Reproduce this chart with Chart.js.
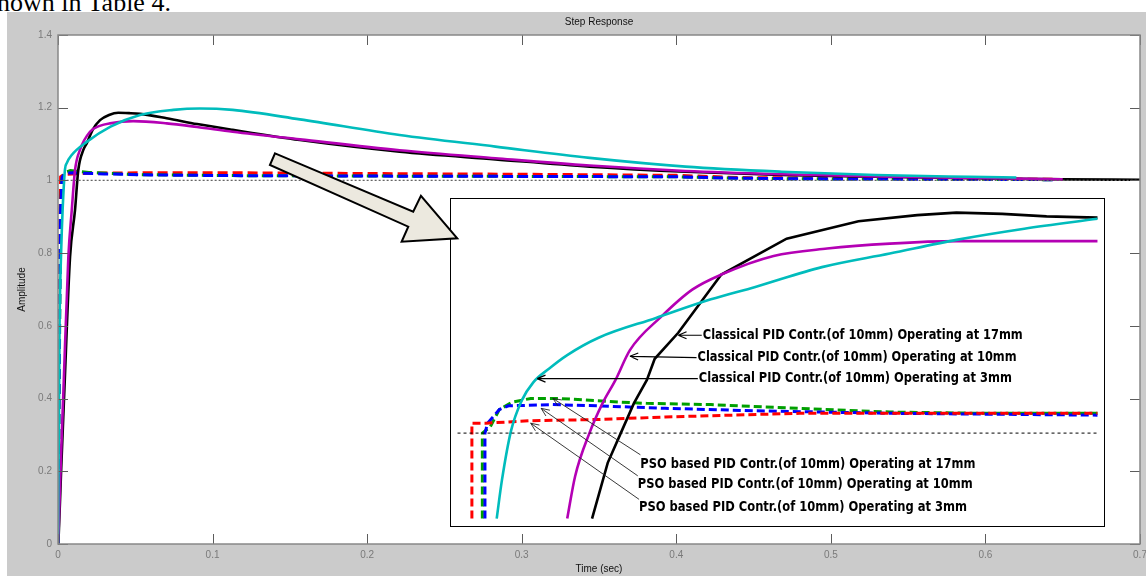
<!DOCTYPE html>
<html>
<head>
<meta charset="utf-8">
<script src="https://cdn.jsdelivr.net/npm/chart.js@4.4.1/dist/chart.umd.min.js"></script>
<style>
  html, body { margin: 0; padding: 0; background: #fff; }
  #page { position: relative; width: 1146px; height: 576px; overflow: hidden; }
  #doc { position: absolute; left: -3px; top: -10px; font: 26px/26px "Liberation Serif", "Times New Roman", serif; color: #000; white-space: nowrap; }
  #fig { position: absolute; left: 7px; top: 12px; width: 1139px; height: 564px; background: #cbcbcb; }
  canvas { position: absolute; left: 0; top: 0; }
</style>
</head>
<body>
<div id="page">
  <div id="doc">nown in Table 4.</div>
  <div id="fig"></div>
  <canvas id="main" width="1146" height="576"></canvas>
  <canvas id="inset" width="1146" height="576"></canvas>
</div>
<script>
// axis ticks
const xTicks = [0, 0.1, 0.2, 0.3, 0.4, 0.5, 0.6, 0.7];
const xTickLabels = ['0', '0.1', '0.2', '0.3', '0.4', '0.5', '0.6', '0.7'];
const yTicks = [0, 0.2, 0.4, 0.6, 0.8, 1, 1.2, 1.4];
const yTickLabels = ['0', '0.2', '0.4', '0.6', '0.8', '1', '1.2', '1.4'];

// main plot: time (sec) and amplitude
const refT = [0.003, 0.7];
const refA = [1, 1];
const cyanT = [0, 0.0005, 0.001, 0.002, 0.003, 0.0045, 0.0056, 0.0089, 0.0186, 0.034, 0.053, 0.0746, 0.0918, 0.113, 0.1565, 0.221, 0.283, 0.344, 0.406, 0.468, 0.529, 0.59, 0.62];
const cyanA = [0, 0.3, 0.6, 0.8, 0.92, 1.03, 1.047, 1.07, 1.106, 1.148, 1.18, 1.194, 1.198, 1.194, 1.168, 1.125, 1.093, 1.062, 1.038, 1.024, 1.015, 1.01, 1.008];
const magentaT = [0, 0.0005, 0.002, 0.0035, 0.0067, 0.0089, 0.011, 0.0142, 0.0207, 0.027, 0.0336, 0.0487, 0.0703, 0.09, 0.113, 0.1565, 0.221, 0.283, 0.344, 0.406, 0.468, 0.529, 0.59, 0.65];
const magentaA = [0, 0.05, 0.25, 0.42, 0.79, 0.918, 1.028, 1.084, 1.134, 1.15, 1.157, 1.163, 1.157, 1.147, 1.134, 1.113, 1.083, 1.061, 1.041, 1.026, 1.017, 1.011, 1.007, 1.003];
const blackT = [0, 0.0005, 0.002, 0.0039, 0.0078, 0.011, 0.0131, 0.0164, 0.0186, 0.0225, 0.0272, 0.033, 0.039, 0.046, 0.053, 0.0703, 0.09, 0.113, 0.1565, 0.221, 0.283, 0.344, 0.406, 0.468, 0.529, 0.59, 0.65, 0.7];
const blackA = [0, 0.03, 0.2, 0.4, 0.79, 0.918, 1.028, 1.084, 1.102, 1.14, 1.166, 1.18, 1.186, 1.185, 1.183, 1.171, 1.155, 1.139, 1.111, 1.079, 1.058, 1.038, 1.024, 1.015, 1.01, 1.006, 1.003, 1.002];
const redT = [0, 0.0006, 0.0012, 0.0017, 0.0035, 0.02, 0.06, 0.12, 0.2, 0.3, 0.4, 0.44, 0.5, 0.6, 0.646];
const redA = [0, 0.5, 0.9, 1.01, 1.016, 1.02, 1.021, 1.021, 1.019, 1.017, 1.014, 1.008, 1.006, 1.004, 1.003];
const blueT = [0, 0.0008, 0.0015, 0.0026, 0.0045, 0.01, 0.03, 0.06, 0.12, 0.2, 0.3, 0.4, 0.44, 0.5, 0.6, 0.646];
const blueA = [0, 0.5, 0.9, 1.008, 1.02, 1.021, 1.018, 1.015, 1.013, 1.012, 1.011, 1.01, 1.006, 1.004, 1.003, 1.002];
const greenT = [0, 0.0008, 0.0016, 0.0024, 0.004, 0.008, 0.02, 0.05, 0.12, 0.2, 0.3, 0.4, 0.44, 0.5, 0.6, 0.646];
const greenA = [0, 0.45, 0.88, 1.0, 1.022, 1.027, 1.022, 1.016, 1.013, 1.012, 1.011, 1.01, 1.006, 1.004, 1.003, 1.002];

// zoomed inset (first 0.05 s)
const insetRefT = [0.0005, 0.0495];
const insetRefA = [1, 1];
const insetBlackT = [0.0108, 0.012, 0.013, 0.014, 0.015, 0.0156, 0.0174, 0.0207, 0.0257, 0.0312, 0.0357, 0.0387, 0.0422, 0.0456, 0.0495];
const insetBlackA = [0.931, 0.976, 1.0, 1.024, 1.043, 1.06, 1.081, 1.128, 1.157, 1.171, 1.176, 1.178, 1.177, 1.175, 1.174];
const insetMagentaT = [0.0089, 0.0095, 0.0106, 0.0116, 0.0126, 0.0137, 0.0161, 0.0185, 0.0207, 0.0247, 0.0288, 0.0336, 0.0387, 0.0495];
const insetMagentaA = [0.931, 0.965, 1.0, 1.024, 1.043, 1.067, 1.094, 1.116, 1.128, 1.143, 1.149, 1.153, 1.155, 1.155];
const insetCyanT = [0.0035, 0.0039, 0.0046, 0.0054, 0.0063, 0.0075, 0.0089, 0.0113, 0.0157, 0.0199, 0.0233, 0.0284, 0.0336, 0.0387, 0.0439, 0.0495];
const insetCyanA = [0.931, 0.962, 1.002, 1.026, 1.041, 1.052, 1.063, 1.077, 1.093, 1.108, 1.118, 1.134, 1.145, 1.156, 1.165, 1.173];
const insetGreenT = [0.0024, 0.0024, 0.003, 0.0037, 0.0047, 0.0061, 0.0082, 0.013, 0.015, 0.0199, 0.0267, 0.0336, 0.0405, 0.0495];
const insetGreenA = [0.931, 1.0, 1.005, 1.019, 1.025, 1.028, 1.028, 1.025, 1.024, 1.023, 1.02, 1.017, 1.016, 1.016];
const insetBlueT = [0.0026, 0.0026, 0.0028, 0.0037, 0.0044, 0.0078, 0.0113, 0.0164, 0.0233, 0.0336, 0.0495];
const insetBlueA = [0.931, 1.0, 1.008, 1.019, 1.022, 1.023, 1.022, 1.02, 1.018, 1.016, 1.0145];
const insetRedT = [0.0016, 0.0016, 0.0027, 0.0044, 0.0061, 0.0113, 0.0164, 0.0267, 0.0336, 0.0495];
const insetRedA = [0.931, 1.008, 1.008, 1.009, 1.01, 1.011, 1.013, 1.016, 1.016, 1.016];

const classicalLabels = [
  'Classical PID Contr.(of 10mm) Operating at 17mm',
  'Classical PID Contr.(of 10mm) Operating at 10mm',
  'Classical PID Contr.(of 10mm) Operating at 3mm'
];
const psoLabels = [
  'PSO based PID Contr.(of 10mm) Operating at 17mm',
  'PSO based PID Contr.(of 10mm) Operating at 10mm',
  'PSO based PID Contr.(of 10mm) Operating at 3mm'
];

const pts = (t, a) => t.map((v, i) => ({ x: v, y: a[i] }));
const tickFont = { family: '"Liberation Sans", Arial, sans-serif', size: 10 };
const labelFont = 'bold 14px "Liberation Sans Narrow", "DejaVu Sans Condensed", "Liberation Sans", sans-serif';

function line(t, a, color, width, dash, smooth) {
  return {
    data: pts(t, a), borderColor: color, borderWidth: width, borderDash: dash || [],
    pointRadius: 0, fill: false,
    cubicInterpolationMode: smooth ? 'monotone' : 'default', tension: 0
  };
}

// white plot area, box and inward ticks like matlab
const mainFrame = {
  id: 'mainFrame',
  beforeDatasetsDraw(chart) {
    const { ctx, chartArea: a } = chart;
    ctx.save();
    ctx.fillStyle = '#fff';
    ctx.fillRect(a.left, a.top, a.width, a.height);
    ctx.restore();
  },
  afterDraw(chart) {
    const { ctx, chartArea: a, scales: { x, y } } = chart;
    ctx.save();
    ctx.strokeStyle = '#5c5c5c';
    ctx.lineWidth = 1;
    ctx.beginPath();
    xTicks.forEach(v => {
      const px = Math.round(x.getPixelForValue(v)) + 0.5;
      ctx.moveTo(px, a.bottom); ctx.lineTo(px, a.bottom - 10);
      ctx.moveTo(px, a.top); ctx.lineTo(px, a.top + 10);
    });
    yTicks.forEach(v => {
      const py = Math.round(y.getPixelForValue(v)) + 0.5;
      ctx.moveTo(a.left, py); ctx.lineTo(a.left + 10, py);
      ctx.moveTo(a.right, py); ctx.lineTo(a.right - 10, py);
    });
    ctx.stroke();
    ctx.strokeStyle = '#888';
    ctx.lineWidth = 1.5;
    ctx.strokeRect(a.left, a.top, a.width, a.height);
    ctx.fillStyle = '#111';
    ctx.font = '10px "Liberation Sans", Arial, sans-serif';
    ctx.textAlign = 'center';
    ctx.textBaseline = 'middle';
    ctx.fillText('Step Response', (a.left + a.right) / 2, 22);
    ctx.restore();
  }
};

const mainChart = new Chart(document.getElementById('main'), {
  type: 'line',
  data: {
    datasets: [
      line(refT, refA, '#666', 1.2, [2, 2], false),
      line(cyanT, cyanA, '#00bcbc', 2.6, null, true),
      line(magentaT, magentaA, '#b400b4', 2.6, null, true),
      line(blackT, blackA, '#000', 2.6, null, true),
      line(blueT, blueA, '#0000ff', 3, [10, 5], false),
      line(greenT, greenA, '#00a000', 3, [10, 5], false),
      line(redT, redA, '#ff0000', 3, [10, 5], false)
    ]
  },
  options: {
    responsive: false,
    animation: false,
    events: [],
    layout: { padding: { left: 7, right: 6, top: 35, bottom: 0 } },
    plugins: { legend: { display: false }, tooltip: { enabled: false }, title: { display: false } },
    scales: {
      x: {
        type: 'linear', min: 0, max: 0.7,
        grid: { display: false, drawTicks: false }, border: { display: false },
        afterBuildTicks: s => { s.ticks = xTicks.map(v => ({ value: v })); },
        afterFit: s => { s.height = 32; s.paddingLeft = 0; s.paddingRight = 0; },
        ticks: { callback: (v, i) => xTickLabels[i], color: '#7a7a7a', font: tickFont, padding: 5, maxRotation: 0, autoSkip: false },
        title: { display: true, text: 'Time (sec)', color: '#111', font: tickFont, padding: { top: 0, bottom: 1 } }
      },
      y: {
        type: 'linear', min: 0, max: 1.4,
        grid: { display: false, drawTicks: false }, border: { display: false },
        afterBuildTicks: s => { s.ticks = yTicks.map(v => ({ value: v })); },
        afterFit: s => { s.width = 51; s.paddingTop = 0; s.paddingBottom = 0; },
        ticks: { callback: (v, i) => yTickLabels[i], color: '#7a7a7a', font: tickFont, padding: 6, autoSkip: false },
        title: { display: true, text: 'Amplitude', color: '#111', font: tickFont, padding: { top: 9, bottom: 0 } }
      }
    }
  },
  plugins: [mainFrame]
});

// annotation anchors, in inset data units
const classicalNotes = [
  { tx: 0.0192, ty: 1.079, ax: 0.0174, ay: 1.079, w: 320 },
  { tx: 0.0188, ty: 1.061, ax: 0.0137, ay: 1.062, w: 319 },
  { tx: 0.0189, ty: 1.044, ax: 0.0066, ay: 1.044, w: 313 }
];
const psoNotes = [
  { tx: 0.0145, ty: 0.975, lx: 0.0145, ly: 0.9825, ax: 0.0078, ay: 1.028, w: 335 },
  { tx: 0.0143, ty: 0.959, lx: 0.0143, ly: 0.9655, ax: 0.0069, ay: 1.020, w: 335 },
  { tx: 0.0144, ty: 0.940, lx: 0.0144, ly: 0.9465, ax: 0.0061, ay: 1.008, w: 328 }
];
// big pointer arrow, in main data units
const bigArrowT = [0.1404, 0.2298, 0.2348, 0.2583, 0.2223, 0.2266, 0.1371];
const bigArrowA = [1.0745, 0.9139, 0.9579, 0.8408, 0.8314, 0.8727, 1.0424];

function arrow(ctx, x1, y1, x2, y2, w) {
  const ang = Math.atan2(y2 - y1, x2 - x1);
  ctx.lineWidth = w;
  ctx.beginPath();
  ctx.moveTo(x1, y1); ctx.lineTo(x2, y2);
  [-0.4, 0.4].forEach(d => {
    ctx.moveTo(x2, y2);
    ctx.lineTo(x2 - 9 * Math.cos(ang + d), y2 - 9 * Math.sin(ang + d));
  });
  ctx.stroke();
}

function fitText(ctx, s, x, y, w) {
  const m = ctx.measureText(s).width;
  ctx.save();
  ctx.translate(x, y);
  ctx.scale(w / m, 1);
  ctx.fillText(s, 0, 0);
  ctx.restore();
}

const insetDecor = {
  id: 'insetDecor',
  beforeDatasetsDraw(chart) {
    const { ctx, chartArea: a } = chart;
    ctx.save();
    ctx.fillStyle = '#fff';
    ctx.fillRect(a.left, a.top, a.width, a.height);
    ctx.restore();
  },
  afterDraw(chart) {
    const { ctx, chartArea: a, scales: { x, y } } = chart;
    ctx.save();
    ctx.strokeStyle = '#000';
    ctx.lineWidth = 1;
    ctx.strokeRect(a.left - 0.5, a.top - 0.5, a.width + 1, a.height + 1);

    ctx.fillStyle = '#000';
    ctx.font = labelFont;
    ctx.textAlign = 'left';
    ctx.textBaseline = 'middle';
    classicalNotes.forEach((n, i) => {
      const tx = x.getPixelForValue(n.tx), ty = y.getPixelForValue(n.ty);
      arrow(ctx, tx, ty, x.getPixelForValue(n.ax), y.getPixelForValue(n.ay), 1.2);
      fitText(ctx, classicalLabels[i], tx + 1, ty, n.w);
    });
    ctx.strokeStyle = '#222';
    psoNotes.forEach((n, i) => {
      arrow(ctx, x.getPixelForValue(n.lx), y.getPixelForValue(n.ly), x.getPixelForValue(n.ax), y.getPixelForValue(n.ay), 0.9);
      fitText(ctx, psoLabels[i], x.getPixelForValue(n.tx), y.getPixelForValue(n.ty), n.w);
    });

    // pointer from the main plot into the inset
    const mx = mainChart.scales.x, my = mainChart.scales.y;
    ctx.beginPath();
    bigArrowT.forEach((t, i) => {
      const px = mx.getPixelForValue(t), py = my.getPixelForValue(bigArrowA[i]);
      if (i === 0) ctx.moveTo(px, py); else ctx.lineTo(px, py);
    });
    ctx.closePath();
    ctx.fillStyle = '#ece9df';
    ctx.fill();
    ctx.strokeStyle = '#000';
    ctx.lineWidth = 2;
    ctx.lineJoin = 'miter';
    ctx.stroke();
    ctx.restore();
  }
};

const insetChart = new Chart(document.getElementById('inset'), {
  type: 'line',
  data: {
    datasets: [
      line(insetRefT, insetRefA, '#000', 1, [3, 3], false),
      line(insetCyanT, insetCyanA, '#00bcbc', 2.6, null, true),
      line(insetMagentaT, insetMagentaA, '#b400b4', 2.6, null, true),
      line(insetBlackT, insetBlackA, '#000', 2.6, null, false),
      line(insetRedT, insetRedA, '#ff0000', 3, [8, 4], false),
      line(insetBlueT, insetBlueA, '#0000ff', 3, [8, 4], false),
      line(insetGreenT, insetGreenA, '#00a000', 3, [8, 4], false)
    ]
  },
  options: {
    responsive: false,
    animation: false,
    events: [],
    layout: { padding: { left: 451, top: 199, right: 42, bottom: 50 } },
    plugins: { legend: { display: false }, tooltip: { enabled: false } },
    scales: {
      x: { type: 'linear', display: false, min: 0, max: 0.05 },
      y: { type: 'linear', display: false, min: 0.925, max: 1.189 }
    }
  },
  plugins: [insetDecor]
});
</script>
</body>
</html>
